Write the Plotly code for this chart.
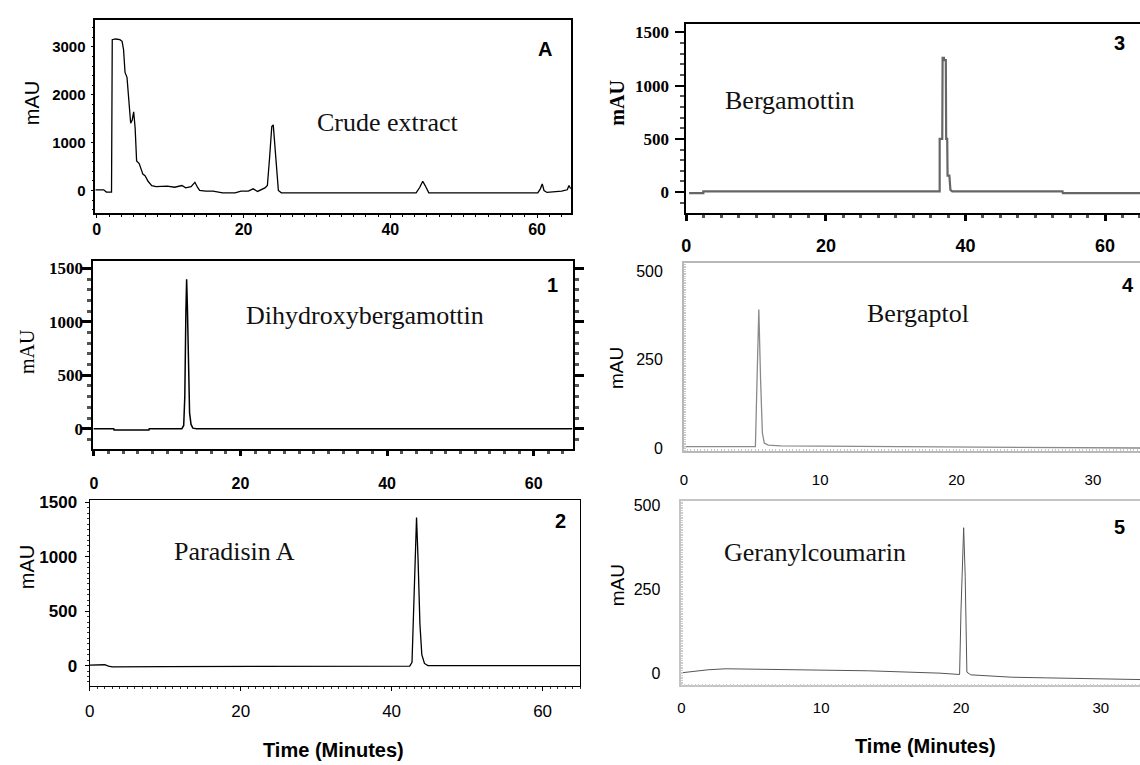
import plotly.graph_objects as go

# ---------------- chromatogram data: retention time (min) vs absorbance (mAU) ----------------
crude_time = [-0.2, 0.95, 1.31, 2.01, 2.11, 2.55, 3.15, 3.45, 3.65, 3.85, 4.12, 4.37, 4.62,
              4.83, 5.03, 5.23, 5.43, 5.78, 6.03, 6.28, 6.58, 6.99, 7.49, 8.09, 9.6, 10.6,
              11.61, 12.11, 12.85, 13.37, 13.72, 14.02, 14.85, 15.85, 17.15, 18.85, 19.65,
              20.65, 21.31, 21.91, 22.92, 23.25, 23.55, 23.85, 24.05, 24.25, 24.52, 24.75,
              25.15, 37.75, 43.52, 44.02, 44.42, 44.75, 45.25, 60.1, 60.45, 60.71, 60.95,
              61.35, 62.35, 63.35, 64.12, 64.35, 64.6]
crude_mau = [14, 14, -34, -34, 3150, 3165, 3150, 3117, 2945, 2466, 2363, 1781, 1404,
             1473, 1644, 1301, 616, 562, 445, 342, 308, 192, 103, 82, 89, 68,
             103, 55, 82, 171, 68, 0, -14, -14, -48, -48, -14,
             -14, 34, -20, 55, 103, 685, 1336, 1370, 959, 274, 0,
             -48, -48, -48, 68, 192, 103, -48, -48, 34, 137, 0,
             -41, -34, -14, 14, 103, 34]

dhb_time = [-0.07, 2.7, 2.75, 7.5, 7.55, 12.0, 12.25, 12.4, 12.55, 12.65, 12.75, 12.9,
            13.05, 13.25, 13.5, 14.0, 65.3]
dhb_mau = [0, 0, -12, -12, 0, 0, 30, 300, 1100, 1400, 1150, 500,
           150, 40, 5, 0, 0]

paradisin_time = [0, 1.2, 2.0, 2.5, 3.0, 10, 20, 30, 40, 42.4, 42.7, 42.9, 43.1, 43.3,
                  43.5, 43.75, 44.0, 44.35, 44.8, 55, 65]
paradisin_mau = [5, 8, 8, -5, -12, -10, -8, -8, -5, -4, 30, 500, 1100, 1360,
                 980, 380, 100, 20, 0, -3, 0]

bergamottin_time = [0.4, 2.44, 2.44, 36.3, 36.3, 36.67, 36.72, 36.92, 36.95, 37.18, 37.23,
                    37.38, 37.43, 37.69, 37.84, 38.1, 53.9, 53.95, 65]
bergamottin_mau = [-9, -9, 6, 6, 500, 500, 1260, 1260, 1240, 1240, 500,
                   500, 155, 155, 20, 6, 6, -9, -9]

bergaptol_time = [0, 5.25, 5.38, 5.5, 5.63, 5.76, 5.9, 6.2, 7.1, 15, 20, 25, 33.45]
bergaptol_mau = [5, 5, 211, 392, 193, 44, 15, 9, 7, 5, 4, 2, 1]

geranyl_time = [0, 1.9, 3.2, 8.3, 13.4, 18.5, 19.9, 20.0, 20.1, 20.19, 20.3, 20.42,
                20.7, 23.6, 26.1, 29.9, 32.8]
geranyl_mau = [3, 12, 15, 13, 9, 2, -2, 190, 330, 434, 290, 5,
               -3, -10, -12, -15, -17]

# ---------------- tick values and labels ----------------
long_run_ticks = [0, 20, 40, 60]
short_run_ticks = [0, 10, 20, 30]
crude_mau_ticks = [0, 1000, 2000, 3000]
standard_mau_ticks = [0, 500, 1000, 1500]
low_mau_ticks = [0, 250, 500]

compound_names = ["Crude extract", "Dihydroxybergamottin", "Paradisin A",
                  "Bergamottin", "Bergaptol", "Geranylcoumarin"]
panel_tags = ["A", "1", "2", "3", "4", "5"]
y_title = "mAU"
x_title = "Time (Minutes)"

W, H = 1140, 765
SANS = "Liberation Sans, Arial, sans-serif"
SERIF = "Liberation Serif, Times New Roman, serif"


def dom_x(left, right):
    return [left / W, min(right / W, 1.0)]


def dom_y(top, bottom):
    return [1 - bottom / H, 1 - top / H]


def px(x, y):
    return dict(x=x / W, y=1 - y / H, xref="paper", yref="paper")


fig = go.Figure()

series = [
    (crude_time, crude_mau, "#000000", 1.3),
    (dhb_time, dhb_mau, "#000000", 1.5),
    (paradisin_time, paradisin_mau, "#000000", 1.3),
    (bergamottin_time, bergamottin_mau, "#666666", 2.2),
    (bergaptol_time, bergaptol_mau, "#8a8a8a", 1.3),
    (geranyl_time, geranyl_mau, "#555555", 1.0),
]
for i, (t, v, col, lw) in enumerate(series):
    sfx = "" if i == 0 else str(i + 1)
    fig.add_trace(go.Scatter(x=t, y=v, mode="lines", line=dict(color=col, width=lw),
                             xaxis="x" + sfx, yaxis="y" + sfx, showlegend=False,
                             name=compound_names[i]))

common = dict(showgrid=False, zeroline=False, showline=True, fixedrange=True)

layout_axes = {
    # --- A: crude extract ---
    "xaxis": dict(common, domain=dom_x(90.7, 568.3), anchor="y", range=[-0.2, 64.6],
                  tickvals=long_run_ticks, linecolor="black", linewidth=1.5, mirror=True,
                  ticks="outside", ticklen=4, tickwidth=1, tickcolor="black",
                  minor=dict(ticks="outside", ticklen=3, dtick=20 / 12, tickcolor="black"),
                  tickfont=dict(family=SANS, size=16, color="black", weight="bold"),
                  ticklabelstandoff=-3),
    "yaxis": dict(common, domain=dom_y(13.3, 209.3), anchor="x", range=[-465, 3560],
                  tickvals=crude_mau_ticks, linecolor="black", linewidth=1.5, mirror=True,
                  ticks="outside", ticklen=3, tickwidth=1, tickcolor="black",
                  minor=dict(ticks="outside", ticklen=2, dtick=200, tickcolor="black"),
                  tickfont=dict(family=SANS, size=15, color="black", weight="bold"),
                  ticklabelstandoff=2),
    # --- 1: dihydroxybergamottin ---
    "xaxis2": dict(common, domain=dom_x(88.8, 570), anchor="y2", range=[-0.07, 65.3],
                   tickvals=long_run_ticks, linecolor="black", linewidth=2.2, mirror=True,
                   ticks="outside", ticklen=5, tickwidth=2.5, tickcolor="black",
                   minor=dict(ticks="outside", ticklen=3, dtick=2, tickcolor="#555555"),
                   tickfont=dict(family=SANS, size=16, color="black", weight="bold"),
                   ticklabelstandoff=14),
    "yaxis2": dict(common, domain=dom_y(258.3, 449.3), anchor="x2", range=[-187, 1571],
                   tickvals=standard_mau_ticks, linecolor="black", linewidth=2.2, mirror="ticks",
                   ticks="outside", ticklen=9, tickwidth=2.5, tickcolor="black",
                   minor=dict(ticks="outside", ticklen=4, dtick=100, tickcolor="#555555"),
                   tickfont=dict(family=SERIF, size=17, color="black", weight="bold"),
                   ticklabelstandoff=-4),
    # --- 2: paradisin A ---
    "xaxis3": dict(common, domain=dom_x(85, 577.9), anchor="y3", range=[0, 65],
                   tickvals=long_run_ticks, linecolor="black", linewidth=1.2, mirror=True,
                   ticks="outside", ticklen=4, tickwidth=1, tickcolor="black",
                   minor=dict(ticks="outside", ticklen=2, dtick=1, tickcolor="#333333"),
                   tickfont=dict(family=SANS, size=17, color="black"),
                   ticklabelstandoff=6),
    "yaxis3": dict(common, domain=dom_y(501.7, 690.7), anchor="x3", range=[-187, 1520],
                   tickvals=standard_mau_ticks, linecolor="black", linewidth=1.2, mirror=True,
                   ticks="outside", ticklen=4, tickwidth=1, tickcolor="black",
                   minor=dict(ticks="outside", ticklen=2, dtick=50, tickcolor="#333333"),
                   tickfont=dict(family=SANS, size=17, color="black", weight="bold"),
                   ticklabelstandoff=4),
    # --- 3: bergamottin ---
    "xaxis4": dict(common, domain=dom_x(684.3, 1140), anchor="y4", range=[0, 65],
                   tickvals=long_run_ticks, linecolor="black", linewidth=2, mirror=True,
                   ticks="outside", ticklen=6, tickwidth=2.5, tickcolor="black",
                   minor=dict(ticks="outside", ticklen=3, dtick=2.5, tickcolor="#555555"),
                   tickfont=dict(family=SANS, size=18, color="black", weight="bold"),
                   ticklabelstandoff=10),
    "yaxis4": dict(common, domain=dom_y(17.3, 209.3), anchor="x4", range=[-194, 1579],
                   tickvals=standard_mau_ticks, linecolor="black", linewidth=2,
                   ticks="outside", ticklen=9, tickwidth=2, tickcolor="black",
                   minor=dict(ticks="outside", ticklen=4, dtick=100, tickcolor="#555555"),
                   tickfont=dict(family=SERIF, size=17, color="black", weight="bold"),
                   ticklabelstandoff=3),
    # --- 4: bergaptol ---
    "xaxis5": dict(common, domain=dom_x(681.8, 1140), anchor="y5", range=[0, 33.45],
                   tickvals=short_run_ticks, linecolor="#b8b8b8", linewidth=1.5, mirror=True,
                   ticks="",
                   minor=dict(ticks="inside", ticklen=2, dtick=0.25, tickcolor="#c8c8c8"),
                   tickfont=dict(family=SANS, size=15, color="black"),
                   ticklabelstandoff=14),
    "yaxis5": dict(common, domain=dom_y(260.7, 451.7), anchor="x5", range=[-7.5, 523],
                   tickvals=low_mau_ticks, linecolor="#b8b8b8", linewidth=1.5,
                   ticks="",
                   minor=dict(ticks="inside", ticklen=2, dtick=5, tickcolor="#c8c8c8"),
                   tickfont=dict(family=SANS, size=16, color="black"),
                   ticklabelstandoff=16),
    # --- 5: geranylcoumarin ---
    "xaxis6": dict(common, domain=dom_x(679.3, 1140), anchor="y6", range=[0, 32.8],
                   tickvals=short_run_ticks, linecolor="#c4c4c4", linewidth=1.5, mirror=True,
                   ticks="",
                   minor=dict(ticks="inside", ticklen=2, dtick=0.25, tickcolor="#cccccc"),
                   tickfont=dict(family=SANS, size=15, color="black"),
                   ticklabelstandoff=8),
    "yaxis6": dict(common, domain=dom_y(502.7, 690), anchor="x6", range=[-34, 513],
                   tickvals=low_mau_ticks, linecolor="#c4c4c4", linewidth=1.5,
                   ticks="",
                   minor=dict(ticks="inside", ticklen=2, dtick=5, tickcolor="#cccccc"),
                   tickfont=dict(family=SANS, size=16, color="black"),
                   ticklabelstandoff=16),
}

annotations = []

# compound names inside each panel
name_pos = [(385, 117), (362, 314), (231, 554), (788, 95), (917, 312), (814, 555)]
for name, (x, y) in zip(compound_names, name_pos):
    annotations.append(dict(px(x, y), text=name, showarrow=False,
                            font=dict(family=SERIF, size=26, color="#111111"),
                            xanchor="center", yanchor="middle"))

# panel tags
tag_pos = [(542, 43), (550, 283), (558, 523), (1119, 37), (1128, 283), (1119, 529)]
for tag, (x, y) in zip(panel_tags, tag_pos):
    annotations.append(dict(px(x, y), text=tag, showarrow=False,
                            font=dict(family=SANS, size=20, color="black", weight="bold"),
                            xanchor="center", yanchor="middle"))

# y-axis titles
ytitle_spec = [
    ((27, 98), SANS, 20, "normal"),
    ((22, 350), SERIF, 20, "normal"),
    ((22, 570), SANS, 20, "normal"),
    ((615, 97), SERIF, 20, "bold"),
    ((614, 367), SANS, 19, "normal"),
    ((615, 588), SANS, 19, "normal"),
]
for (x, y), fam, size, wt in ytitle_spec:
    annotations.append(dict(px(x, y), text=y_title, showarrow=False, textangle=-90,
                            font=dict(family=fam, size=size, color="black", weight=wt),
                            xanchor="center", yanchor="middle"))

# shared x-axis titles under each column
for (x, y) in [(330, 756), (925, 752)]:
    annotations.append(dict(px(x, y), text=x_title, showarrow=False,
                            font=dict(family=SANS, size=20, color="black", weight="bold"),
                            xanchor="center", yanchor="middle"))

fig.update_layout(
    width=W, height=H,
    margin=dict(l=0, r=0, t=0, b=0),
    paper_bgcolor="white", plot_bgcolor="white",
    showlegend=False,
    annotations=annotations,
    **layout_axes,
)

fig.write_html("out.html")
